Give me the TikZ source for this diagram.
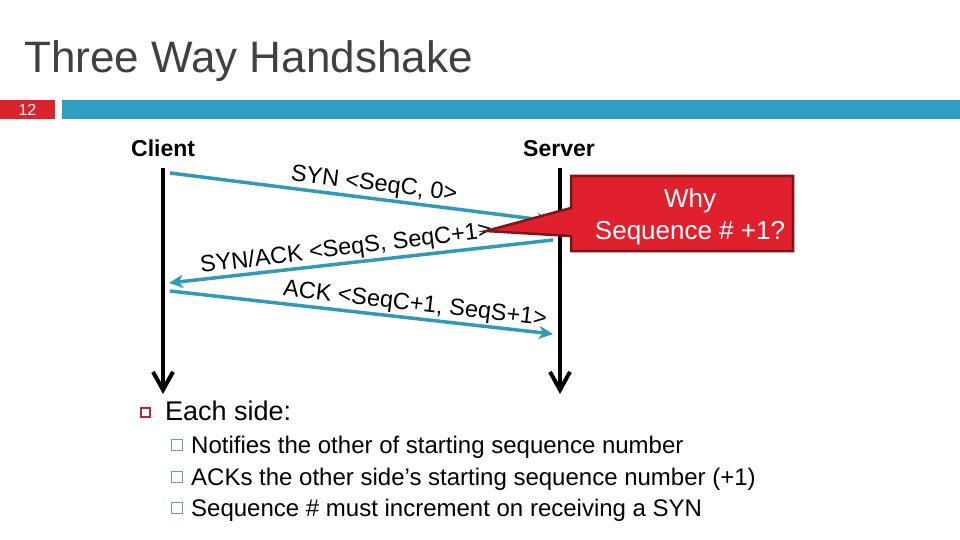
\documentclass[tikz,border=0pt]{standalone}
\usepackage{fontspec}
\setmainfont{Liberation Sans}
\usetikzlibrary{arrows.meta}
\definecolor{titlegray}{HTML}{404040}
\definecolor{hdrred}{HTML}{D9232D}
\definecolor{hdrblue}{HTML}{2E9FC2}
\definecolor{msgblue}{HTML}{3399B8}
\definecolor{callred}{HTML}{E0202C}
\definecolor{calledge}{HTML}{7E1518}
\definecolor{bulred}{HTML}{B02A3C}
\definecolor{bulgray}{HTML}{6E9CA8}
\tikzset{
  lifeline/.style={line width=4pt, black, -{Straight Barb[length=18pt,width=20pt,line width=4pt]}},
  msg/.style={line width=3.5pt, msgblue, -{Stealth[length=14pt,width=13pt,inset=4pt]}},
  msglabel/.style={font=\fontsize{23.5}{23.5}\selectfont, inner sep=0pt},
  hostlabel/.style={font=\bfseries\fontsize{23}{23}\selectfont, inner sep=0pt, anchor=base west},
  subbul/.style={draw=bulgray, line width=1pt, minimum size=10.5pt, inner sep=0pt},
  subtext/.style={font=\fontsize{24}{24}\selectfont, inner sep=0pt, anchor=base west}
}
\begin{document}
\begin{tikzpicture}[x=1pt,y=-1pt]
\useasboundingbox (0,0) rectangle (960,540);
% title
\node[anchor=base west, inner sep=0pt, text=titlegray, font=\fontsize{44}{44}\selectfont] (title) at (24,73) {Three Way Handshake};
% header bar
\fill[hdrred] (0,100) rectangle (55,119);
\node[text=white, font=\fontsize{16}{16}\selectfont, inner sep=0pt] (pnum) at (27.5,110) {12};
\fill[hdrblue] (62,100) rectangle (960,119);
% hosts
\node[hostlabel] (client) at (131,157) {Client};
\node[hostlabel] (server) at (523,157) {Server};
\coordinate (ctop) at (163,168);
\coordinate (cbot) at (163,394);
\coordinate (stop) at (560,168);
\coordinate (sbot) at (560,394);
\draw[lifeline] (ctop) -- (cbot);
\draw[lifeline] (stop) -- (sbot);
% messages
\coordinate (m1a) at (170,173);
\coordinate (m1b) at (551,221);
\coordinate (m2a) at (553,240);
\coordinate (m2b) at (169,283);
\coordinate (m3a) at (170,291);
\coordinate (m3b) at (553,334);
\draw[msg] (m1a) -- (m1b);
\draw[msg] (m2a) -- (m2b);
\draw[msg] (m3a) -- (m3b);
\node[msglabel, rotate=-7] (l1) at (374,185) {SYN <SeqC, 0>};
\node[msglabel, rotate=7] (l2) at (346,249) {SYN/ACK <SeqS, SeqC+1>};
\node[msglabel, rotate=-6.5] (l3) at (415,305) {ACK <SeqC+1, SeqS+1>};
% callout
\draw[fill=callred, draw=calledge, line width=2.5pt, line join=miter]
  (571,176) -- (793,176) -- (793,251) -- (571,251) -- (571,236) -- (486,231) -- (571,208) -- cycle;
\node[text=white, font=\fontsize{26}{26}\selectfont, align=center, inner sep=0pt] (why) at (690,217)
  {Why\\[6pt]Sequence \# +1?};
% bullets
\node[draw=bulred, line width=2pt, minimum size=9pt, inner sep=0pt] (b0) at (145,412) {};
\node[anchor=base west, inner sep=0pt, font=\fontsize{27}{27}\selectfont] (each) at (165,420) {Each side:};
\node[subbul] (b1) at (177,445) {};
\node[subtext] (t1) at (191,453) {Notifies the other of starting sequence number};
\node[subbul] (b2) at (177,477) {};
\node[subtext] (t2) at (191,485) {ACKs the other side’s starting sequence number (+1)};
\node[subbul] (b3) at (177,508) {};
\node[subtext] (t3) at (191,516) {Sequence \# must increment on receiving a SYN};
\end{tikzpicture}
\end{document}
